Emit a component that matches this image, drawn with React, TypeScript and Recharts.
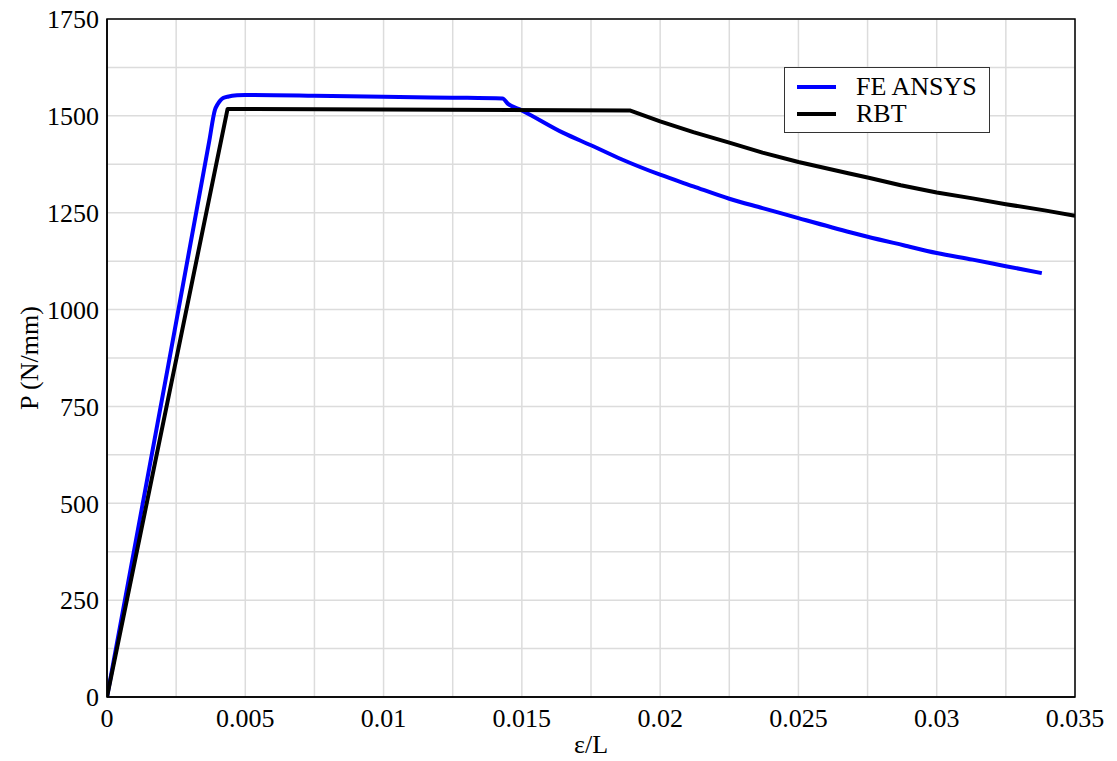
import { CartesianGrid, Legend, Line, LineChart, ReferenceArea, XAxis, YAxis } from 'recharts';

// strain ticks (grid every 0.0025, label every 0.005)
const xTicks = [0, 0.0025, 0.005, 0.0075, 0.01, 0.0125, 0.015, 0.0175, 0.02, 0.0225, 0.025, 0.0275, 0.03, 0.0325, 0.035];
const xLabels = ['0', '', '0.005', '', '0.01', '', '0.015', '', '0.02', '', '0.025', '', '0.03', '', '0.035'];
const yTicks = [0, 125, 250, 375, 500, 625, 750, 875, 1000, 1125, 1250, 1375, 1500, 1625, 1750];
const yLabels = ['0', '', '250', '', '500', '', '750', '', '1000', '', '1250', '', '1500', '', '1750'];

// FE ANSYS
const feStrain = [
  0, 0.00212, 0.0037, 0.0039, 0.004, 0.0041, 0.0042, 0.0044, 0.0047, 0.005, 0.0075, 0.01, 0.0125, 0.0143, 0.0145, 0.015,
  0.0165, 0.0175, 0.0186, 0.02, 0.0212, 0.0225, 0.0237, 0.025, 0.0269, 0.0275, 0.0288, 0.03, 0.0313, 0.0325, 0.0338,
];
const feLoad = [
  0, 819, 1436, 1515, 1530, 1540, 1546, 1550, 1553, 1554, 1552, 1549, 1547, 1545, 1531, 1514,
  1456, 1424, 1388, 1348, 1318, 1286, 1262, 1236, 1199, 1188, 1166, 1146, 1129, 1112, 1094,
];

// RBT
const rbtStrain = [0, 0.00436, 0.0189, 0.02, 0.0212, 0.0225, 0.0237, 0.025, 0.0268, 0.0275, 0.0287, 0.03, 0.0313, 0.0325, 0.0339, 0.035];
const rbtLoad = [0, 1518, 1514, 1486, 1458, 1431, 1405, 1381, 1352, 1341, 1321, 1302, 1287, 1272, 1256, 1242];

const feData = feStrain.map((x, i) => ({ x, y: feLoad[i] }));
const rbtData = rbtStrain.map((x, i) => ({ x, y: rbtLoad[i] }));

const FONT = '"Liberation Serif", "Times New Roman", serif';

function LegendBox() {
  const rows = [
    { name: 'FE ANSYS', color: '#0000ff' },
    { name: 'RBT', color: '#000000' },
  ];
  return (
    <div
      style={{
        boxSizing: 'border-box',
        width: 206,
        height: 66,
        border: '1.5px solid #333',
        background: '#fff',
        fontFamily: FONT,
        fontSize: 26,
        color: '#000',
        paddingTop: 5,
      }}
    >
      {rows.map((r) => (
        <div key={r.name} style={{ display: 'flex', alignItems: 'center', height: 27 }}>
          <div style={{ width: 39, height: 4, background: r.color, marginLeft: 12, marginRight: 20 }} />
          <span style={{ lineHeight: '27px' }}>{r.name}</span>
        </div>
      ))}
    </div>
  );
}

export default function App() {
  return (
    <div style={{ position: 'absolute', left: 0, top: 0, width: 1117, height: 761, background: '#fff', fontFamily: FONT }}>
      <LineChart width={1117} height={761} margin={{ top: 19, right: 42, left: 0, bottom: 24 }}>
        <CartesianGrid stroke="#dcdcdc" strokeWidth={1.5} />
        <XAxis
          type="number"
          dataKey="x"
          domain={[0, 0.035]}
          ticks={xTicks}
          interval={0}
          tickFormatter={(v: number) => xLabels[xTicks.indexOf(v)] ?? ''}
          tickLine={false}
          axisLine={{ stroke: '#000', strokeWidth: 1.5 }}
          tick={{ fill: '#000', fontSize: 26, fontFamily: FONT }}
          tickMargin={6}
          height={40}
          allowDataOverflow
        />
        <YAxis
          type="number"
          domain={[0, 1750]}
          ticks={yTicks}
          interval={0}
          tickFormatter={(v: number) => yLabels[yTicks.indexOf(v)] ?? ''}
          tickLine={false}
          axisLine={{ stroke: '#000', strokeWidth: 1.5 }}
          tick={{ fill: '#000', fontSize: 26, fontFamily: FONT }}
          width={107}
          allowDataOverflow
        />
        <ReferenceArea x1={0} x2={0.035} y1={0} y2={1750} fill="none" stroke="#000" strokeWidth={1.5} />
        <Line
          data={feData}
          dataKey="y"
          name="FE ANSYS"
          type="monotone"
          stroke="#0000ff"
          strokeWidth={4}
          strokeLinejoin="round"
          dot={false}
          isAnimationActive={false}
        />
        <Line
          data={rbtData}
          dataKey="y"
          name="RBT"
          type="linear"
          stroke="#000000"
          strokeWidth={4}
          strokeLinejoin="round"
          dot={false}
          isAnimationActive={false}
        />
        <Legend
          layout="horizontal"
          verticalAlign="middle"
          content={() => <LegendBox />}
          wrapperStyle={{ position: 'absolute', left: 784, top: 67, width: 206, height: 66 }}
        />
      </LineChart>
      <div
        style={{
          position: 'absolute',
          left: 30,
          top: 358,
          transform: 'translate(-50%, -50%) rotate(-90deg)',
          whiteSpace: 'nowrap',
          fontSize: 26,
          color: '#000',
        }}
      >
        P (N/mm)
      </div>
      <div
        style={{
          position: 'absolute',
          left: 591,
          top: 745,
          transform: 'translate(-50%, -50%)',
          whiteSpace: 'nowrap',
          fontSize: 26,
          color: '#000',
        }}
      >
        ε/L
      </div>
    </div>
  );
}
